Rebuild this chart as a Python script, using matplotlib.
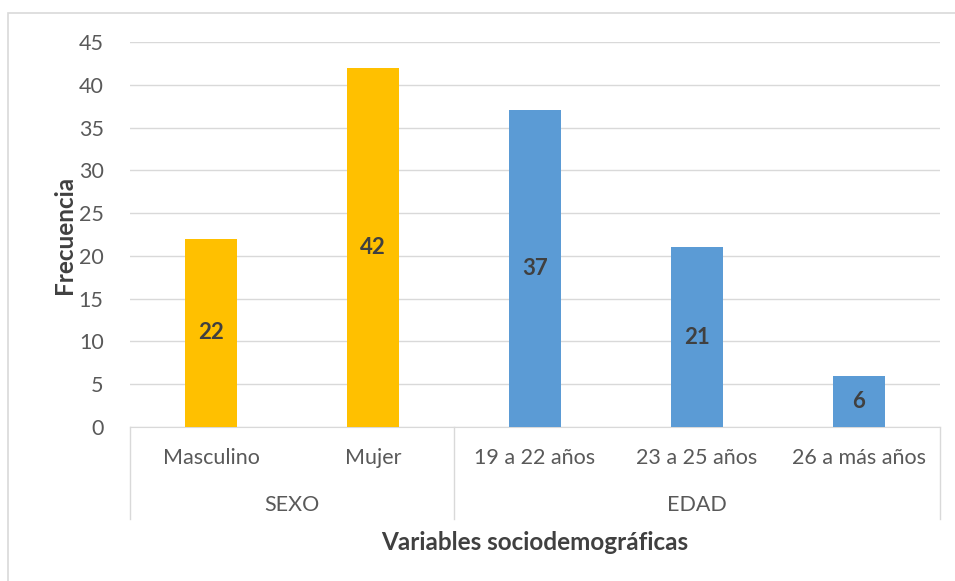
import matplotlib.pyplot as plt
from matplotlib.patches import Rectangle
from matplotlib.lines import Line2D

plt.rcParams['font.family'] = ['Lato', 'DejaVu Sans']

# data
categories = ['Masculino', 'Mujer', '19 a 22 años', '23 a 25 años', '26 a más años']
values = [22, 42, 37, 21, 6]
groups = ['SEXO', 'EDAD']
group_sizes = [2, 3]
group_colors = ['#FFC000', '#5B9BD5']
yticks = [0, 5, 10, 15, 20, 25, 30, 35, 40, 45]

W, H = 955, 581
fig = plt.figure(figsize=(W / 100, H / 100), dpi=100)

# outer chart border
fig.add_artist(Rectangle((8 / W, -0.05), 1.0, 1 - 13 / H + 0.05, transform=fig.transFigure,
                         fill=False, edgecolor='#D9D9D9', lw=1.2))

left, right, top, bottom = 130, 940, 42, 427
ax = fig.add_axes([left / W, 1 - bottom / H, (right - left) / W, (bottom - top) / H])

colors = []
for g, n in enumerate(group_sizes):
    colors += [group_colors[g]] * n

x = list(range(len(categories)))
bars = ax.bar(x, values, width=0.315, color=colors, zorder=3)
for b, v in zip(bars, values):
    ax.text(b.get_x() + b.get_width() / 2, v / 2, str(v), ha='center', va='center',
            fontsize=16, fontweight='bold', color='#404040', zorder=4)

ax.set_xlim(-0.5, len(categories) - 0.5)
ax.set_ylim(0, 45)
ax.set_yticks(yticks)
ax.yaxis.grid(True, color='#D9D9D9', lw=1)
ax.set_axisbelow(True)
for s in ['left', 'right', 'top']:
    ax.spines[s].set_visible(False)
ax.spines['bottom'].set_color('#D9D9D9')
ax.tick_params(axis='y', length=0, pad=19, labelsize=15.5, labelcolor='#595959')
ax.set_xticks([])

# category labels and group labels
trans = ax.get_xaxis_transform()
for xi, c in zip(x, categories):
    ax.text(xi, -31 / (bottom - top), c, transform=trans, ha='center', va='center',
            fontsize=15.5, color='#595959')

sep_y = -92 / (bottom - top)
start = 0
bounds = [-0.5]
for g, n in zip(groups, group_sizes):
    mid = start + (n - 1) / 2
    ax.text(mid, -78 / (bottom - top), g, transform=trans, ha='center', va='center',
            fontsize=15.5, color='#595959')
    start += n
    bounds.append(start - 0.5)
for bx in bounds:
    ax.add_line(Line2D([bx, bx], [0, sep_y], transform=trans, color='#D9D9D9',
                       lw=1, clip_on=False))

ax.text(0.5, -116 / (bottom - top), 'Variables sociodemográficas', transform=ax.transAxes,
        ha='center', va='center', fontsize=17.5, fontweight='bold', color='#404040')
ax.set_ylabel('Frecuencia', fontsize=17.5, fontweight='bold', color='#404040', labelpad=2)

fig.savefig('out.png', dpi=100)
